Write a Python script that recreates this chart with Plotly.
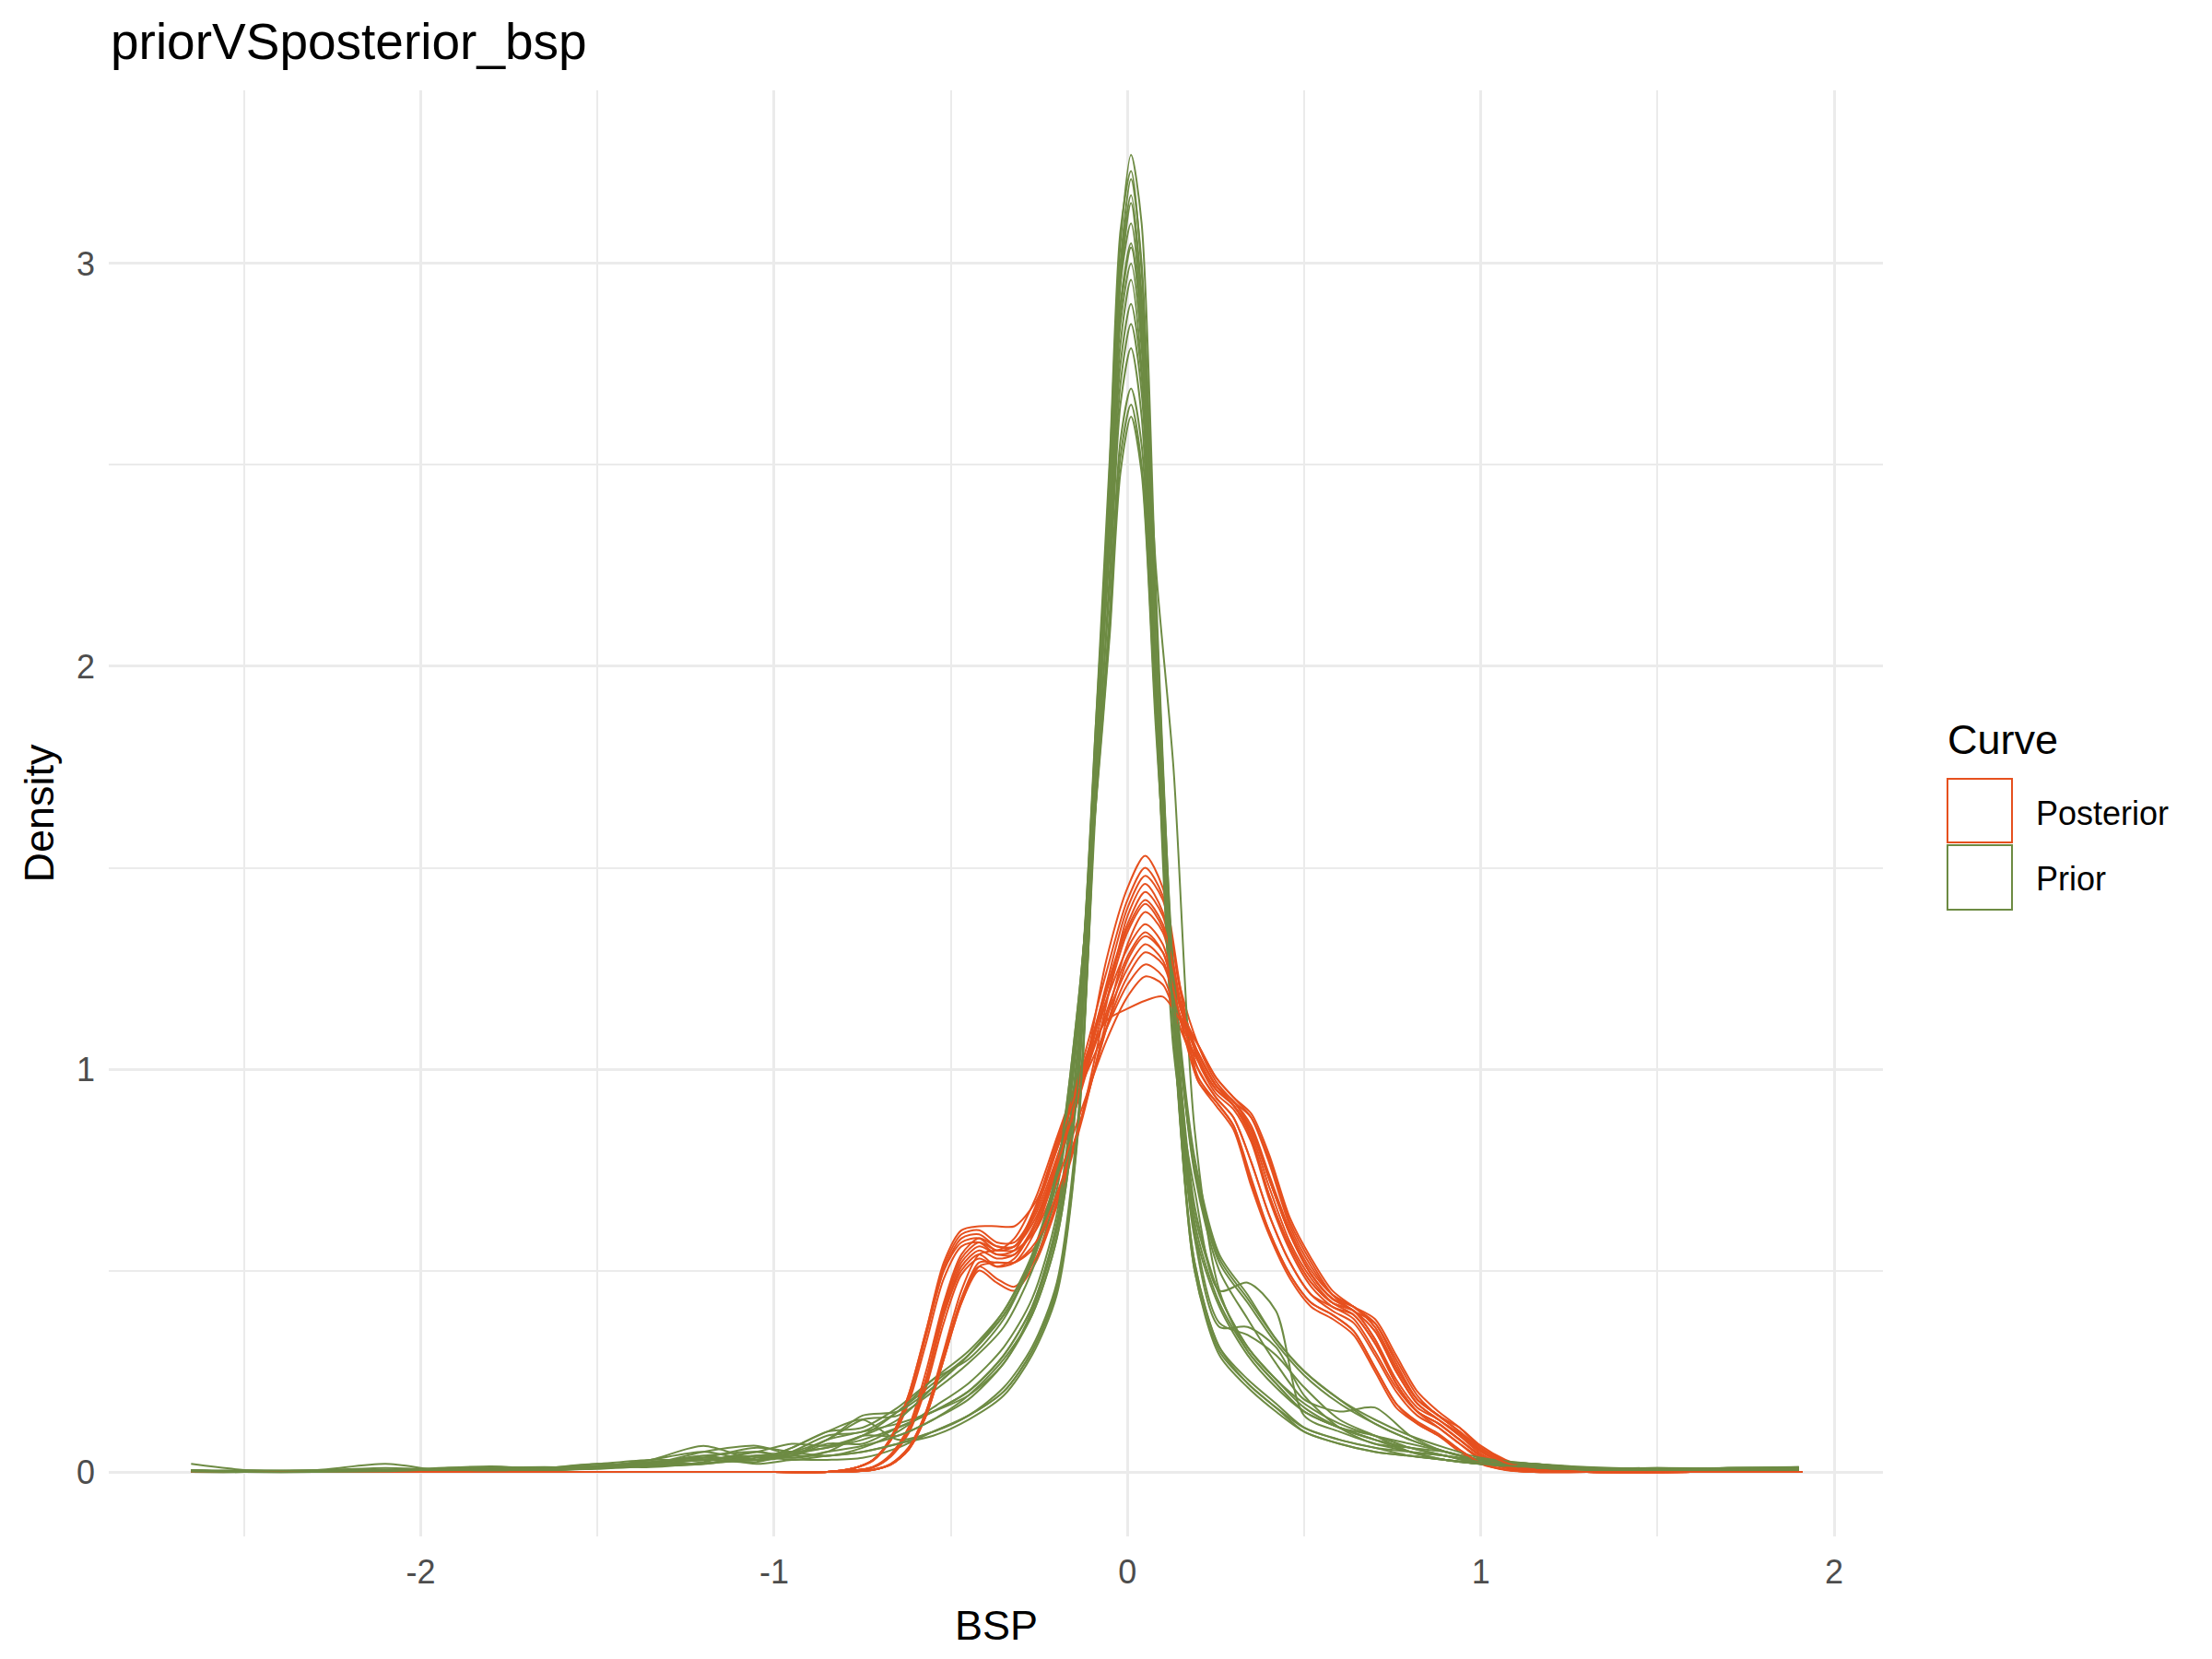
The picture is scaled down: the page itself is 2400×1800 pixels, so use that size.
import plotly.graph_objects as go

# ---- data ----
# common x grid of the prior density curves
prior_x = [-2.65, -2.5, -2.3, -2.1, -1.95, -1.8, -1.65, -1.5, -1.35, -1.2, -1.05, -0.95,
           -0.85, -0.75, -0.65, -0.55, -0.45, -0.35, -0.27, -0.2, -0.14, -0.09, -0.05,
           -0.02, 0.01, 0.04, 0.08, 0.13, 0.19, 0.26, 0.34, 0.42, 0.5, 0.6, 0.7, 0.8,
           0.9, 1.0, 1.15, 1.3, 1.5, 1.7, 1.9]

prior_01 = [0.0,0.0,0.0,0.0,0.002,0.0,0.004,0.01,0.02,0.04,0.02,0.03, 0.03,0.035,0.06,0.1,0.14,0.2,0.3,0.45, 0.85,1.75,2.5,3.05,3.27,3.1,2.2,1.2, 0.5,0.3,0.22,0.16,0.1,0.07,0.05, 0.04,0.03,0.02,0.01,0.005,0.004,0.006,0.005]
prior_02 = [0.02,0.005,0.0,0.002,0.004,0.006,0.005,0.01,0.015,0.02,0.035,0.045, 0.06,0.08,0.11,0.15,0.2,0.29,0.41,0.61, 1.0,1.85,2.52,3.08,3.23,2.98,2.15,1.25, 0.75,0.52,0.42,0.32,0.24,0.17,0.12, 0.08,0.05,0.03,0.015,0.008,0.004,0.01,0.012]
prior_03 = [0.0,0.002,0.004,0.02,0.005,0.003,0.01,0.008,0.02,0.03,0.025,0.05, 0.09,0.1,0.15,0.22,0.29,0.39,0.52,0.72, 1.1,1.85,2.45,3.0,3.21,3.0,2.15,1.2, 0.62,0.42,0.3,0.22,0.15,0.11,0.08, 0.06,0.05,0.03,0.015,0.01,0.008,0.005,0.004]
prior_04 = [0.004,0.0,0.002,0.004,0.01,0.014,0.008,0.015,0.03,0.065,0.03,0.04, 0.08,0.1,0.12,0.15,0.19,0.27,0.4,0.6, 1.0,1.82,2.46,2.98,3.17,2.92,2.05,1.1, 0.58,0.36,0.36,0.31,0.19,0.11,0.07, 0.06,0.04,0.03,0.02,0.01,0.003,0.006,0.01]
prior_05 = [0.0,0.0,0.003,0.005,0.002,0.004,0.01,0.02,0.015,0.02,0.04,0.03, 0.04,0.05,0.07,0.09,0.13,0.19,0.29,0.44, 0.84,1.7,2.4,2.95,3.15,2.9,2.25,1.75, 0.85,0.45,0.3,0.22,0.15,0.11,0.08, 0.05,0.04,0.02,0.01,0.006,0.004,0.01,0.008]
prior_06 = [0.003,0.002,0.0,0.003,0.006,0.01,0.012,0.01,0.025,0.035,0.03,0.06, 0.1,0.11,0.16,0.23,0.28,0.38,0.53,0.74, 1.12,1.82,2.4,2.9,3.05,2.85,2.05,1.2, 0.76,0.53,0.43,0.33,0.25,0.18,0.12, 0.08,0.05,0.03,0.015,0.01,0.006,0.005,0.006]
prior_07 = [0.0,0.004,0.002,0.0,0.003,0.008,0.006,0.015,0.012,0.025,0.05,0.035, 0.05,0.09,0.09,0.13,0.18,0.27,0.39,0.58, 0.96,1.75,2.38,2.88,3.04,2.82,1.95,1.05, 0.7,0.45,0.47,0.4,0.14,0.1,0.07, 0.05,0.03,0.02,0.012,0.006,0.01,0.006,0.004]
prior_08 = [0.002,0.0,0.0,0.002,0.004,0.003,0.005,0.012,0.02,0.03,0.04,0.05, 0.08,0.13,0.14,0.2,0.27,0.36,0.5,0.7, 1.1,1.8,2.32,2.8,2.96,2.74,1.96,1.1, 0.52,0.31,0.23,0.17,0.11,0.08,0.06, 0.05,0.04,0.025,0.01,0.008,0.006,0.01,0.01]
prior_09 = [0.005,0.003,0.002,0.006,0.004,0.01,0.008,0.01,0.02,0.04,0.05,0.04, 0.07,0.07,0.11,0.15,0.2,0.29,0.41,0.62, 1.04,1.75,2.3,2.75,2.9,2.72,2.0,1.24, 0.74,0.5,0.38,0.27,0.18,0.15,0.16, 0.09,0.05,0.03,0.02,0.01,0.005,0.007,0.012]
prior_10 = [0.0,0.0,0.004,0.01,0.006,0.002,0.004,0.01,0.03,0.05,0.03,0.06, 0.1,0.13,0.08,0.1,0.14,0.21,0.31,0.47, 0.88,1.65,2.24,2.7,2.85,2.68,1.92,1.15, 0.6,0.37,0.34,0.29,0.21,0.13,0.09, 0.05,0.03,0.02,0.01,0.006,0.004,0.005,0.006]
prior_11 = [0.003,0.002,0.0,0.002,0.003,0.005,0.01,0.015,0.025,0.02,0.04,0.05, 0.06,0.09,0.15,0.23,0.3,0.4,0.53,0.73, 1.14,1.72,2.2,2.65,2.79,2.62,1.9,1.18, 0.64,0.44,0.31,0.23,0.16,0.11,0.08, 0.06,0.04,0.02,0.015,0.01,0.008,0.004,0.005]
prior_12 = [0.0,0.002,0.003,0.004,0.008,0.01,0.006,0.008,0.015,0.035,0.06,0.05, 0.04,0.06,0.1,0.16,0.22,0.31,0.43,0.64, 1.06,1.66,2.14,2.56,2.69,2.55,1.88,1.12, 0.5,0.29,0.21,0.15,0.1,0.07,0.05, 0.04,0.03,0.02,0.01,0.008,0.01,0.008,0.004]
prior_13 = [0.002,0.003,0.004,0.003,0.005,0.012,0.01,0.02,0.03,0.03,0.05,0.07, 0.065,0.09,0.13,0.21,0.29,0.4,0.54,0.75, 1.16,1.66,2.1,2.52,2.65,2.5,1.88,1.25, 0.78,0.54,0.44,0.33,0.25,0.18,0.13, 0.09,0.06,0.035,0.02,0.01,0.006,0.006,0.008]
prior_14 = [0.004,0.0,0.002,0.004,0.003,0.004,0.008,0.012,0.02,0.05,0.065,0.045, 0.08,0.14,0.15,0.21,0.29,0.39,0.52,0.74, 1.16,1.65,2.08,2.48,2.62,2.48,1.85,1.2, 0.66,0.44,0.31,0.23,0.17,0.12,0.09, 0.07,0.05,0.03,0.02,0.012,0.008,0.01,0.01]
prior_15 = [0.0,0.001,0.002,0.003,0.004,0.006,0.01,0.012,0.016,0.022,0.03,0.04, 0.04,0.05,0.07,0.1,0.14,0.2,0.3,0.46, 0.86,1.7,2.34,2.85,3.0,2.79,1.98,1.14, 0.6,0.41,0.29,0.21,0.15,0.11,0.09, 0.06,0.04,0.025,0.015,0.01,0.006,0.008,0.008]
prior_16 = [0.001,0.0,0.0,0.002,0.006,0.004,0.007,0.01,0.02,0.03,0.04,0.035, 0.05,0.065,0.09,0.13,0.19,0.28,0.39,0.58, 0.96,1.8,2.42,2.95,3.1,2.86,2.02,1.12, 0.52,0.31,0.22,0.16,0.11,0.08,0.06, 0.04,0.03,0.02,0.012,0.008,0.005,0.006,0.007]

# common x grid of the posterior density curves
post_x = [-2.65, -1.5, -1.0, -0.85, -0.78, -0.72, -0.67, -0.62, -0.57, -0.52, -0.47, -0.42,
          -0.37, -0.32, -0.26, -0.2, -0.13, -0.06, 0.0, 0.05, 0.1, 0.15, 0.2, 0.25, 0.3,
          0.35, 0.4, 0.46, 0.52, 0.58, 0.64, 0.7, 0.76, 0.82, 0.88, 0.94, 1.0, 1.07, 1.15,
          1.3, 1.6, 1.91]

post_01 = [0,0,0,0, 0.003,0.012,0.04,0.1,0.23,0.39,0.5,0.54,0.51,0.52,0.6,0.75,0.96, 1.27,1.45,1.53,1.45,1.2, 0.97,0.92,0.86,0.72,0.6,0.49,0.42,0.39,0.35,0.26,0.17,0.125,0.095,0.055,0.022,0.006,0.0, 0,0,0]
post_02 = [0,0,0,0, 0.008,0.03,0.08,0.18,0.34,0.5,0.57,0.58,0.55,0.58,0.68,0.83,1.01, 1.24,1.42,1.5,1.43,1.19, 1.02,0.94,0.9,0.82,0.68,0.55,0.46,0.41,0.39,0.32,0.22,0.15,0.12,0.08,0.04,0.015,0.003, 0,0,0]
post_03 = [0,0,0,0, 0.003,0.012,0.04,0.1,0.23,0.41,0.53,0.57,0.55,0.56,0.64,0.78,0.97, 1.21,1.4,1.48,1.42,1.2, 1.06,0.97,0.92,0.88,0.78,0.62,0.52,0.44,0.4,0.37,0.28,0.19,0.14,0.11,0.065,0.03,0.008, 0,0,0]
post_04 = [0,0,0,0, 0.001,0.005,0.018,0.055,0.14,0.28,0.42,0.51,0.52,0.52,0.56,0.68,0.88, 1.16,1.38,1.46,1.39,1.16, 1.0,0.93,0.88,0.77,0.64,0.52,0.44,0.4,0.37,0.29,0.2,0.14,0.11,0.07,0.03,0.01,0.002, 0,0,0]
post_05 = [0,0,0,0, 0.008,0.03,0.085,0.19,0.35,0.51,0.59,0.6,0.57,0.57,0.65,0.8,0.99, 1.2,1.36,1.44,1.38,1.17, 1.04,0.96,0.91,0.85,0.73,0.59,0.49,0.43,0.4,0.35,0.25,0.17,0.13,0.095,0.052,0.022,0.005, 0,0,0]
post_06 = [0,0,0,0, 0.003,0.012,0.04,0.1,0.22,0.39,0.51,0.55,0.53,0.54,0.62,0.76,0.95, 1.17,1.34,1.41,1.35,1.15, 1.03,0.95,0.91,0.83,0.69,0.56,0.47,0.42,0.4,0.33,0.22,0.15,0.11,0.07,0.035,0.012,0.002, 0,0,0]
post_07 = [0,0,0,0, 0.001,0.005,0.018,0.055,0.14,0.28,0.42,0.5,0.47,0.45,0.52,0.66,0.87, 1.12,1.31,1.39,1.34,1.15, 1.06,0.98,0.93,0.88,0.77,0.61,0.51,0.44,0.41,0.38,0.29,0.2,0.15,0.11,0.06,0.028,0.008, 0,0,0]
post_08 = [0,0,0,0, 0.008,0.03,0.08,0.18,0.34,0.5,0.58,0.59,0.56,0.56,0.66,0.82,1.0, 1.17,1.3,1.36,1.31,1.12, 0.97,0.91,0.85,0.71,0.59,0.48,0.41,0.38,0.34,0.25,0.16,0.12,0.09,0.05,0.02,0.005,0.0, 0,0,0]
post_09 = [0,0,0,0, 0.003,0.011,0.038,0.095,0.21,0.37,0.49,0.53,0.51,0.53,0.62,0.77,0.96, 1.14,1.28,1.34,1.29,1.13, 1.04,0.96,0.92,0.85,0.73,0.59,0.49,0.43,0.4,0.35,0.25,0.17,0.13,0.09,0.05,0.02,0.005, 0,0,0]
post_10 = [0,0,0,0, 0.008,0.028,0.078,0.17,0.32,0.48,0.56,0.57,0.54,0.55,0.65,0.81,0.99, 1.13,1.25,1.31,1.27,1.12, 1.02,0.95,0.91,0.83,0.69,0.56,0.47,0.42,0.4,0.33,0.23,0.16,0.13,0.09,0.045,0.018,0.004, 0,0,0]
post_11 = [0,0,0,0, 0.001,0.005,0.02,0.06,0.15,0.29,0.43,0.51,0.48,0.46,0.53,0.67,0.88, 1.1,1.23,1.29,1.26,1.13, 1.06,0.98,0.93,0.89,0.79,0.63,0.53,0.45,0.41,0.37,0.27,0.18,0.14,0.1,0.06,0.026,0.007, 0,0,0]
post_12 = [0,0,0,0, 0.003,0.013,0.044,0.11,0.25,0.42,0.54,0.58,0.56,0.56,0.63,0.77,0.96, 1.1,1.21,1.26,1.23,1.1, 1.0,0.93,0.88,0.77,0.64,0.52,0.44,0.41,0.38,0.3,0.21,0.15,0.12,0.08,0.04,0.014,0.003, 0,0,0]
post_13 = [0,0,0,0, 0.001,0.006,0.02,0.06,0.15,0.3,0.45,0.54,0.55,0.55,0.6,0.72,0.9, 1.07,1.18,1.23,1.21,1.1, 1.02,0.95,0.91,0.84,0.71,0.57,0.48,0.42,0.39,0.32,0.22,0.15,0.12,0.08,0.04,0.015,0.003, 0,0,0]
post_14 = [0,0,0,0, 0.008,0.03,0.085,0.19,0.35,0.52,0.6,0.61,0.61,0.61,0.67,0.8,0.98, 1.12,1.15,1.17,1.18,1.12, 1.04,0.96,0.91,0.85,0.73,0.59,0.49,0.43,0.41,0.36,0.26,0.18,0.14,0.1,0.055,0.024,0.006, 0,0,0]
post_15 = [0,0,0,0, 0.003,0.012,0.04,0.1,0.23,0.4,0.52,0.56,0.54,0.54,0.61,0.76,0.96, 1.19,1.35,1.42,1.36,1.16, 0.98,0.92,0.86,0.73,0.6,0.49,0.42,0.39,0.35,0.26,0.17,0.12,0.09,0.055,0.022,0.006,0.0, 0,0,0]
post_16 = [0,0,0,0, 0.001,0.005,0.018,0.055,0.14,0.28,0.43,0.52,0.52,0.52,0.57,0.69,0.88, 1.1,1.27,1.33,1.29,1.13, 1.04,0.96,0.92,0.86,0.74,0.6,0.5,0.44,0.41,0.36,0.26,0.18,0.14,0.1,0.055,0.023,0.006, 0,0,0]

x_ticks = [-2, -1, 0, 1, 2]
x_tick_labels = ["-2", "-1", "0", "1", "2"]
x_minor = [-2.5, -1.5, -0.5, 0.5, 1.5]
y_ticks = [0, 1, 2, 3]
y_tick_labels = ["0", "1", "2", "3"]
y_minor = [0.5, 1.5, 2.5]

curve_names = ["Posterior", "Prior"]
curve_colors = ["#E6501E", "#6D8B43"]

prior_curves = [prior_01, prior_02, prior_03, prior_04, prior_05, prior_06, prior_07, prior_08,
                prior_09, prior_10, prior_11, prior_12, prior_13, prior_14, prior_15, prior_16]
post_curves = [post_01, post_02, post_03, post_04, post_05, post_06, post_07, post_08,
               post_09, post_10, post_11, post_12, post_13, post_14, post_15, post_16]

FONT = "Liberation Sans, Arial, Helvetica, sans-serif"
GRID = "#EBEBEB"

fig = go.Figure()

# one posterior + one prior curve per draw, drawn in turn
for i in range(len(post_curves)):
    fig.add_trace(go.Scatter(x=post_x, y=post_curves[i], mode="lines",
                             line=dict(color=curve_colors[0], width=2, shape="spline", smoothing=0.8),
                             name=curve_names[0], showlegend=False, hoverinfo="skip"))
    fig.add_trace(go.Scatter(x=prior_x, y=prior_curves[i], mode="lines",
                             line=dict(color=curve_colors[1], width=2, shape="spline", smoothing=0.8),
                             name=curve_names[1], showlegend=False, hoverinfo="skip"))

fig.update_xaxes(range=[-2.883, 2.138], tickmode="array", tickvals=x_ticks, ticktext=x_tick_labels,
                 showgrid=True, gridcolor=GRID, gridwidth=3, zeroline=False, showline=False, ticks="",
                 minor=dict(tickvals=x_minor, showgrid=True, gridcolor=GRID, gridwidth=1.6),
                 tickfont=dict(family=FONT, size=36, color="#4D4D4D"), ticklabelstandoff=14)
fig.update_yaxes(range=[-0.160, 3.430], tickmode="array", tickvals=y_ticks, ticktext=y_tick_labels,
                 showgrid=True, gridcolor=GRID, gridwidth=3, zeroline=False, showline=False, ticks="",
                 minor=dict(tickvals=y_minor, showgrid=True, gridcolor=GRID, gridwidth=1.6),
                 tickfont=dict(family=FONT, size=36, color="#4D4D4D"), ticklabelstandoff=14)

# hand-made legend in the ggplot style (outlined square keys)
legend_rows = [(-747, -816), (-819, -889)]
shapes = []
for (y0, y1), col in zip(legend_rows, curve_colors):
    shapes.append(dict(type="rect", xref="paper", yref="paper", xsizemode="pixel", ysizemode="pixel",
                       xanchor=1, yanchor=1, x0=70, x1=140, y0=y0, y1=y1,
                       line=dict(color=col, width=2), fillcolor="white"))

annotations = [
    dict(text="priorVSposterior_bsp", xref="paper", yref="paper", x=0, y=1, xanchor="left",
         yanchor="middle", xshift=0, yshift=53, showarrow=False, font=dict(family=FONT, size=55, color="black")),
    dict(text="BSP", xref="paper", yref="paper", x=0.5, y=0, xanchor="center", yanchor="middle",
         yshift=-96, showarrow=False, font=dict(family=FONT, size=45, color="black")),
    dict(text="Density", xref="paper", yref="paper", x=0, y=0.5, xanchor="center", yanchor="middle",
         xshift=-76, textangle=-90, showarrow=False, font=dict(family=FONT, size=45, color="black")),
    dict(text="Curve", xref="paper", yref="paper", x=1, y=1, xanchor="left", yanchor="middle",
         xshift=68, yshift=-704, showarrow=False, font=dict(family=FONT, size=45, color="black")),
]
for name, ys in zip(curve_names, [-784, -855]):
    annotations.append(dict(text=name, xref="paper", yref="paper", x=1, y=1, xanchor="left",
                            yanchor="middle", xshift=164, yshift=ys, showarrow=False,
                            font=dict(family=FONT, size=36, color="black")))

# margins allow for the 8px default page margin of the browser
fig.update_layout(width=2400, height=1800, margin=dict(l=110, r=365, t=90, b=141),
                  plot_bgcolor="white", paper_bgcolor="white", showlegend=False,
                  font=dict(family=FONT), shapes=shapes, annotations=annotations)

fig.write_html("out.html")
